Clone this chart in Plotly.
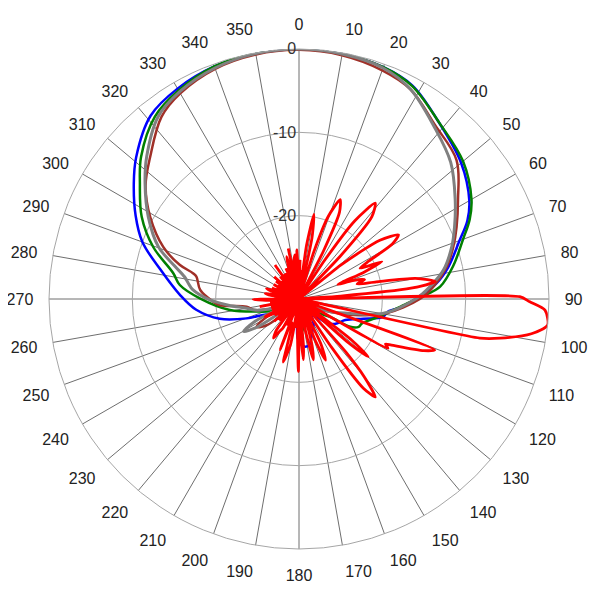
import plotly.graph_objects as go

# ---- data (dB vs angle, degrees clockwise from top) ----
blue_theta = [0, 10, 20, 28, 38, 50, 60, 65, 70, 78, 83.5, 88, 94, 98, 102, 107, 114.5, 123, 130, 140, 150, 160, 167, 172, 178, 182, 186, 200, 220, 240, 246, 249.7, 256, 264, 272, 282, 290, 297, 305, 311, 321, 330, 340, 350, 360]
blue_r = [0, -0.1, -0.4, -1.0, -2.9, -4.6, -6.4, -7.7, -9.5, -11.7, -13.4, -15.3, -17.4, -19.2, -19.7, -21.9, -23.9, -24.6, -25.4, -27.5, -26.5, -25.5, -24.4, -24.2, -24.6, -25.3, -27.5, -28.5, -28, -26.5, -25.3, -23.3, -20.2, -17.6, -15.7, -13.0, -10.0, -8.0, -5.8, -4.1, -1.7, -0.85, -0.3, -0.1, 0]

green_theta = [0, 10, 20, 28, 38.7, 50, 60, 65, 70, 78, 85, 88, 93, 102.6, 111.2, 115, 118.5, 120, 130, 150, 165, 172, 178, 183, 200, 220, 245, 252, 261, 270.4, 276.7, 281.6, 289.7, 297.6, 306, 312, 321.7, 330, 340, 350, 360]
green_r = [0, -0.1, -0.4, -1.06, -3.0, -4.3, -6.1, -7.4, -9.05, -11.1, -13.0, -14.7, -17.3, -20.2, -21.9, -22.1, -23.0, -25.7, -27.5, -28, -27, -26.4, -25.7, -27, -28.5, -28, -26.5, -25.1, -21.6, -18.1, -15.6, -14.6, -11.4, -8.7, -6.4, -4.5, -2.1, -1.1, -0.3, -0.05, 0]

brown_theta = [0, 10, 20, 28, 38, 48.6, 58, 65.4, 71.3, 77.7, 84.8, 90, 99.6, 105, 110, 118, 140, 170, 200, 225, 231, 236.8, 241, 245, 252, 256, 261.6, 265.4, 268.2, 275.2, 282.3, 283.7, 286, 291, 298.9, 306.5, 313.7, 323, 330, 340, 350, 360]
brown_r = [-0.1, -0.3, -0.8, -1.5, -3.5, -4.8, -7.5, -9.2, -10.45, -11.85, -13.8, -15.5, -19.5, -22.5, -25, -27.5, -29, -28.5, -28, -27, -25, -23.9, -25.5, -28, -26, -24.5, -23.65, -20.5, -19.7, -18.1, -17.4, -16.9, -15.1, -12.55, -9.6, -7.1, -5.3, -2.6, -1.5, -0.6, -0.2, -0.1]

gray_theta = [0, 10, 20, 28, 38, 48, 57.6, 65, 71, 78.6, 84.6, 90, 99.6, 105.7, 112, 120, 140, 170, 200, 225, 230, 236, 239.6, 243, 247, 252, 256, 260, 265, 269.4, 275, 278, 281, 285, 290.4, 298.6, 306.9, 313, 322.3, 330, 340, 350, 360]
gray_r = [0, -0.15, -0.5, -1.5, -3.7, -5.5, -7.8, -9.4, -10.6, -12.3, -14.2, -16.0, -19.7, -23.6, -26, -28, -29, -28.5, -28, -27, -28, -24, -22.3, -24, -28, -26, -24.5, -23.6, -21.5, -19.3, -17.2, -16.6, -16.0, -14.5, -12.0, -9.4, -6.9, -5.0, -2.35, -1.3, -0.5, -0.1, 0]

red_theta = [0, 1.5, 3, 5, 6.5, 8, 10, 12, 13.5, 15, 16, 17.5, 19.5, 22.5, 25, 27, 29, 30.5, 32, 33.5, 35.5, 38.5, 41.5, 44, 46, 47.5, 49, 51, 54, 57.2, 59.5, 61.5, 63.3, 65.7, 67.5, 69.5, 71, 73.5, 75.5, 77.5, 80, 82.7, 84.5, 86, 88, 89.4, 90.7, 92.6, 96, 98.5, 101, 102.2, 105.5, 107, 108.5, 110.6, 112.5, 116.5, 117.5, 119, 122, 124, 126, 128, 129.8, 131.5, 133, 134.5, 136, 138.5, 140, 142.1, 144.2, 146, 148, 150, 152, 154, 156.5, 158.5, 160.5, 163, 164.5, 166.8, 168.5, 170, 171.5, 173, 174.5, 176, 177.5, 178.5, 180.5, 182.5, 184, 186, 188, 190.5, 194, 196, 197.5, 200.4, 203, 205, 207, 209, 211, 213, 216, 218, 220, 222, 224, 226, 228, 230, 232, 234, 236, 238, 240, 242.5, 245, 247, 249, 251, 253, 255, 257, 259, 261.5, 263.5, 265.5, 267.5, 269.5, 271.5, 273.5, 275.5, 277.5, 279.5, 282, 284, 286, 288, 290, 292, 294, 296, 298, 300, 302, 304, 306, 308, 310, 312, 314, 316, 318, 320, 322, 324.8, 327, 329, 331, 333, 335, 337, 339, 341, 343.8, 346, 348, 350, 352, 354.8, 356, 357.3, 359, 360]
red_r = [-30, -25.3, -30, -26.5, -30, -23.5, -19.7, -22.5, -30, -27, -30, -24, -19.5, -17.1, -18.5, -23.5, -30, -27.5, -30, -24.5, -18.5, -15.3, -16.8, -23, -30, -27.5, -30, -23.5, -18, -15.8, -17, -20.5, -21.8, -19.1, -21.5, -25, -23.2, -21.8, -22.8, -20.5, -15.8, -13.5, -16.5, -25, -30, -3.5, -2.3, -0.45, 0, -1.8, -5.4, -7.8, -30, -27.5, -30, -12.6, -13.8, -17.6, -18.3, -17.8, -30, -27, -30, -22, -19.2, -22, -30, -27, -30, -21.5, -17.8, -15.1, -16.8, -23, -30, -27, -30, -24, -22, -24.5, -30, -26, -24, -22.5, -26, -30, -27, -30, -24.5, -22.7, -26, -28, -21.3, -26, -30, -26.5, -30, -24.5, -22.2, -27, -27, -23.5, -30, -26.5, -30, -26, -25.5, -24.4, -25.4, -30, -26.5, -30, -26.5, -30, -26, -30, -26.8, -30, -26.5, -30, -26.5, -25.4, -30, -26.5, -30, -26.5, -30, -26.5, -30, -25.2, -30, -26.5, -30, -26, -24.5, -30, -27, -30, -26.5, -25.9, -30, -27, -26.5, -25.9, -30, -26.5, -30, -27, -30, -26.5, -30, -27, -30, -26.5, -30, -26, -30, -27, -30, -26.5, -30, -25, -30, -26.5, -30, -26.5, -30, -26, -30, -26.5, -24.7, -30, -23.8, -30, -25.5, -24.7, -30, -24.1, -27, -30]

angular_ticks = list(range(0, 360, 10))
radial_ticks = [-20, -10, 0]

series = [
    (blue_theta, blue_r, "#0000ff", 2.5, 1.0),
    (green_theta, green_r, "#008000", 2.5, 1.0),
    (brown_theta, brown_r, "#a03028", 2.5, 1.0),
    (gray_theta, gray_r, "#808080", 3, 1.0),
    (red_theta, red_r, "#ff0000", 2.8, 0.7),
]

fig = go.Figure()
for th, rr, col, w, sm in series:
    fig.add_trace(go.Scatterpolar(theta=th, r=rr, mode="lines",
                                  line=dict(color=col, width=w, shape="spline", smoothing=sm),
                                  showlegend=False, hoverinfo="skip"))

fig.update_layout(
    width=600, height=600,
    margin=dict(l=41, r=59, t=41, b=59),
    paper_bgcolor="white",
    font=dict(family="Liberation Sans, Arial, sans-serif", size=16, color="#222"),
    polar=dict(
        bgcolor="white",
        domain=dict(x=[0, 1], y=[0, 1]),
        angularaxis=dict(
            rotation=90, direction="clockwise",
            tickmode="array", tickvals=angular_ticks,
            ticktext=[str(t) for t in angular_ticks],
            showgrid=True, gridcolor="#6e6e6e", gridwidth=1,
            showline=True, linecolor="#a6a6a6", linewidth=1,
            ticks="outside", ticklen=12, tickcolor="rgba(0,0,0,0)",
            tickfont=dict(size=16, color="#222"),
        ),
        radialaxis=dict(
            range=[-30, 0], tickmode="array", tickvals=radial_ticks,
            ticktext=[str(t) for t in radial_ticks],
            angle=90, tickangle=90, side="counterclockwise",
            showgrid=True, gridcolor="#a6a6a6", gridwidth=1,
            showline=False, ticks="",
            tickfont=dict(size=16, color="#333"),
        ),
    ),
)

fig.write_html("out.html")
